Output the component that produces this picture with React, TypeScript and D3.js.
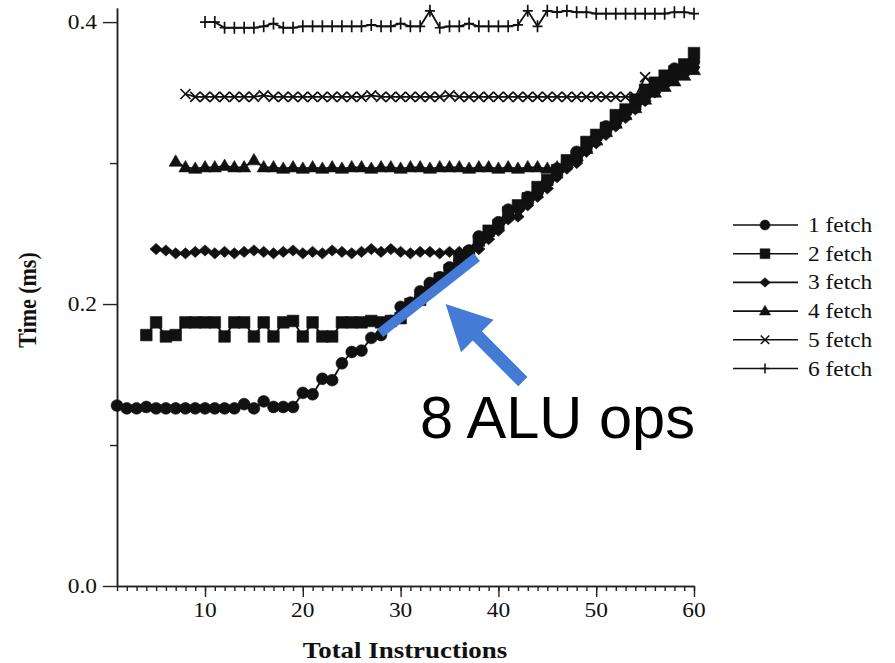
import React, { useEffect, useRef } from "react";
import * as d3 from "d3";

const W = 895;
const H = 663;

// first "Total Instructions" value of every series, then its times (ms)
const fetch1Start = 1;
const fetch1 = [
  0.128, 0.126, 0.126, 0.127, 0.126, 0.126, 0.126, 0.126, 0.126, 0.126,
  0.126, 0.126, 0.126, 0.129, 0.126, 0.131, 0.127, 0.127, 0.127, 0.137,
  0.136, 0.147, 0.146, 0.158, 0.166, 0.167, 0.176, 0.178, 0.188, 0.198,
  0.201, 0.209, 0.215, 0.219, 0.226, 0.23, 0.238, 0.248, 0.25, 0.258,
  0.267, 0.268, 0.276, 0.279, 0.287, 0.296, 0.3, 0.308, 0.31, 0.318,
  0.326, 0.329, 0.337, 0.34, 0.347, 0.355, 0.358, 0.367, 0.368, 0.372,
];
const fetch2Start = 4;
const fetch2 = [
  0.178, 0.187, 0.177, 0.178, 0.187, 0.187, 0.187, 0.187, 0.177, 0.187,
  0.187, 0.177, 0.187, 0.177, 0.187, 0.188, 0.177, 0.187, 0.177, 0.177,
  0.187, 0.187, 0.187, 0.188, 0.187, 0.188, 0.19, 0.2, 0.203, 0.212,
  0.218, 0.224, 0.232, 0.236, 0.245, 0.252, 0.256, 0.265, 0.27, 0.275,
  0.283, 0.288, 0.295, 0.302, 0.305, 0.315, 0.32, 0.325, 0.334, 0.338,
  0.345, 0.352, 0.357, 0.362, 0.365, 0.37, 0.378,
];
const fetch3Start = 5;
const fetch3 = [
  0.239, 0.238, 0.236, 0.236, 0.237, 0.238, 0.236, 0.237, 0.236, 0.237,
  0.238, 0.237, 0.236, 0.237, 0.238, 0.236, 0.237, 0.236, 0.238, 0.237,
  0.236, 0.237, 0.239, 0.237, 0.239, 0.237, 0.236, 0.237, 0.237, 0.236,
  0.237, 0.237, 0.238, 0.239, 0.246, 0.252, 0.26, 0.262, 0.27, 0.276,
  0.282, 0.29, 0.296, 0.3, 0.308, 0.314, 0.32, 0.326, 0.332, 0.338,
  0.344, 0.35, 0.355, 0.36, 0.363, 0.368,
];
const fetch4Start = 7;
const fetch4 = [
  0.301, 0.297, 0.296, 0.297, 0.297, 0.298, 0.297, 0.297, 0.302, 0.297,
  0.297, 0.296, 0.297, 0.296, 0.297, 0.296, 0.297, 0.296, 0.297, 0.297,
  0.296, 0.297, 0.297, 0.296, 0.297, 0.297, 0.296, 0.297, 0.297, 0.297,
  0.296, 0.297, 0.297, 0.296, 0.297, 0.296, 0.297, 0.297, 0.296, 0.297,
  0.3, 0.305, 0.31, 0.316, 0.322, 0.328, 0.334, 0.339, 0.345, 0.35,
  0.354, 0.358, 0.362, 0.366,
];
const fetch5Start = 8;
const fetch5 = [
  0.349, 0.347, 0.347, 0.347, 0.347, 0.347, 0.347, 0.347, 0.348, 0.347,
  0.347, 0.347, 0.347, 0.347, 0.347, 0.347, 0.347, 0.347, 0.347, 0.348,
  0.347, 0.347, 0.347, 0.347, 0.347, 0.347, 0.347, 0.348, 0.347, 0.347,
  0.347, 0.347, 0.347, 0.347, 0.347, 0.347, 0.347, 0.347, 0.347, 0.347,
  0.347, 0.347, 0.347, 0.347, 0.347, 0.347, 0.347, 0.361, 0.356, 0.36,
  0.364, 0.368, 0.37,
];
const fetch6Start = 10;
const fetch6 = [
  0.4, 0.4, 0.396, 0.396, 0.396, 0.396, 0.397, 0.399, 0.396, 0.396,
  0.397, 0.397, 0.397, 0.397, 0.397, 0.397, 0.397, 0.398, 0.397, 0.397,
  0.399, 0.397, 0.397, 0.408, 0.396, 0.397, 0.397, 0.399, 0.397, 0.397,
  0.397, 0.397, 0.398, 0.408, 0.397, 0.408, 0.407, 0.408, 0.407, 0.407,
  0.406, 0.406, 0.406, 0.406, 0.406, 0.406, 0.406, 0.406, 0.407, 0.407,
  0.406,
];

const labels = ["1 fetch", "2 fetch", "3 fetch", "4 fetch", "5 fetch", "6 fetch"];
const starts = [fetch1Start, fetch2Start, fetch3Start, fetch4Start, fetch5Start, fetch6Start];
const values = [fetch1, fetch2, fetch3, fetch4, fetch5, fetch6];

const yMajor = [0, 0.2, 0.4];
const yMinor = [0.1, 0.3];
const xMajor = [10, 20, 30, 40, 50, 60];

// annotation in data units: highlighted stretch and arrow (tail -> tip)
const highlight = [[27.9, 0.1794], [37.8, 0.2333]];
const arrow = [[42.5, 0.145], [34.6, 0.2]];
const noteText = "8 ALU ops";

const BLUE = "#437bd6";
const SX = 1.17; // the source picture is stretched sideways
const SERIF = "'Liberation Serif', 'Times New Roman', serif";

const markerPaths = [
  d3.symbol(d3.symbolCircle, 110)()!,
  "M-5.8,-5.8H5.8V5.8H-5.8Z",
  "M0,-5.6L6.2,0L0,5.6L-6.2,0Z",
  "M0,-6.8L6.6,4.6L-6.6,4.6Z",
  "M-5,-5L5,5M-5,5L5,-5",
  "M-5,0H5M0,-6V6",
];
const filled = [true, true, true, true, false, false];

export default function App() {
  const ref = useRef<SVGSVGElement>(null);

  useEffect(() => {
    const svg = d3.select(ref.current);
    svg.selectAll("*").remove();

    const x = d3.scaleLinear().domain([1, 60]).range([117, 694]);
    const y = d3.scaleLinear().domain([0, 0.41]).range([586, 8]);

    const g = svg.append("g");

    const stretchText = (sel: any, px: number, py: number, txt: string, anchor: string, size: number, bold = false) =>
      sel
        .append("text")
        .attr("transform", `translate(${px},${py}) scale(${SX},1)`)
        .attr("text-anchor", anchor)
        .attr("font-family", SERIF)
        .attr("font-size", size)
        .attr("font-weight", bold ? "bold" : "normal")
        .attr("fill", "#111")
        .text(txt);

    // axes
    const axisStyle = (a: any) => {
      a.select(".domain").attr("stroke", "#222").attr("stroke-width", 1.5);
      a.selectAll(".tick line").attr("stroke", "#222").attr("stroke-width", 1.4);
      a.selectAll(".tick text").remove();
    };
    g.append("g")
      .attr("transform", "translate(0,586)")
      .call(d3.axisBottom(x).tickValues(d3.range(1, 61)).tickSize(5).tickSizeOuter(0))
      .call(axisStyle);
    g.append("g")
      .attr("transform", "translate(0,586)")
      .call(d3.axisBottom(x).tickValues(xMajor).tickSize(11).tickSizeOuter(0))
      .call(axisStyle);
    g.append("g")
      .attr("transform", "translate(117,0)")
      .call(d3.axisLeft(y).tickValues(yMinor).tickSize(7).tickSizeOuter(0))
      .call(axisStyle);
    g.append("g")
      .attr("transform", "translate(117,0)")
      .call(d3.axisLeft(y).tickValues(yMajor).tickSize(14).tickSizeOuter(0))
      .call(axisStyle);

    xMajor.forEach((v) => stretchText(g, x(v), 617, String(v), "middle", 20));
    yMajor.forEach((v) => stretchText(g, 97, y(v) + 7, d3.format(".1f")(v), "end", 20));

    stretchText(g, 405, 658, "Total Instructions", "middle", 23, true);
    g.append("text")
      .attr("transform", `translate(36,300) scale(${SX},1) rotate(-90)`)
      .attr("text-anchor", "middle")
      .attr("font-family", SERIF)
      .attr("font-size", 22)
      .attr("font-weight", "bold")
      .attr("fill", "#111")
      .text("Time (ms)");

    // series
    values.forEach((vals, s) => {
      const pts = vals.map((v, i) => [x(starts[s] + i), y(v)] as [number, number]);
      g.append("path")
        .attr("d", d3.line()(pts))
        .attr("fill", "none")
        .attr("stroke", "#111")
        .attr("stroke-width", 1.8);
      g.append("g")
        .selectAll("path")
        .data(pts)
        .join("path")
        .attr("transform", (p) => `translate(${p[0]},${p[1]})`)
        .attr("d", markerPaths[s])
        .attr("fill", filled[s] ? "#111" : "none")
        .attr("stroke", "#111")
        .attr("stroke-width", filled[s] ? 0.6 : 1.7);
    });

    // legend
    const leg = g.append("g");
    labels.forEach((lab, i) => {
      const ly = 225 + i * 28.7;
      leg.append("line")
        .attr("x1", 733).attr("x2", 798).attr("y1", ly).attr("y2", ly)
        .attr("stroke", "#111").attr("stroke-width", 1.6);
      leg.append("path")
        .attr("transform", `translate(765,${ly}) scale(0.85)`)
        .attr("d", markerPaths[i])
        .attr("fill", filled[i] ? "#111" : "none")
        .attr("stroke", "#111")
        .attr("stroke-width", filled[i] ? 0.6 : 1.8);
      stretchText(leg, 808, ly + 7, lab, "start", 20);
    });

    // annotation
    const hl = highlight.map(([a, b]) => [x(a), y(b)] as [number, number]);
    g.append("path")
      .attr("d", d3.line()(hl))
      .attr("stroke", BLUE)
      .attr("stroke-width", 10)
      .attr("fill", "none");

    const [tail, tip] = arrow.map(([a, b]) => [x(a), y(b)]);
    const dx = tip[0] - tail[0];
    const dy = tip[1] - tail[1];
    const len = Math.hypot(dx, dy);
    const ux = dx / len, uy = dy / len;
    const nx = -uy, ny = ux;
    const headLen = 45, hw = 23, sw = 6.5;
    const bx = tip[0] - ux * headLen, by = tip[1] - uy * headLen;
    const poly = [
      [tip[0], tip[1]],
      [bx + nx * hw, by + ny * hw],
      [bx + nx * sw, by + ny * sw],
      [tail[0] + nx * sw, tail[1] + ny * sw],
      [tail[0] - nx * sw, tail[1] - ny * sw],
      [bx - nx * sw, by - ny * sw],
      [bx - nx * hw, by - ny * hw],
    ];
    g.append("polygon")
      .attr("points", poly.map((p) => p.join(",")).join(" "))
      .attr("fill", BLUE);

    g.append("text")
      .attr("x", 420)
      .attr("y", 438)
      .attr("font-family", "'Liberation Sans', Arial, sans-serif")
      .attr("font-size", 59)
      .attr("textLength", 275)
      .attr("lengthAdjust", "spacingAndGlyphs")
      .attr("fill", "#000")
      .text(noteText);
  }, []);

  return (
    <svg
      ref={ref}
      width={W}
      height={H}
      style={{ position: "absolute", left: 0, top: 0, background: "#fff" }}
    />
  );
}
